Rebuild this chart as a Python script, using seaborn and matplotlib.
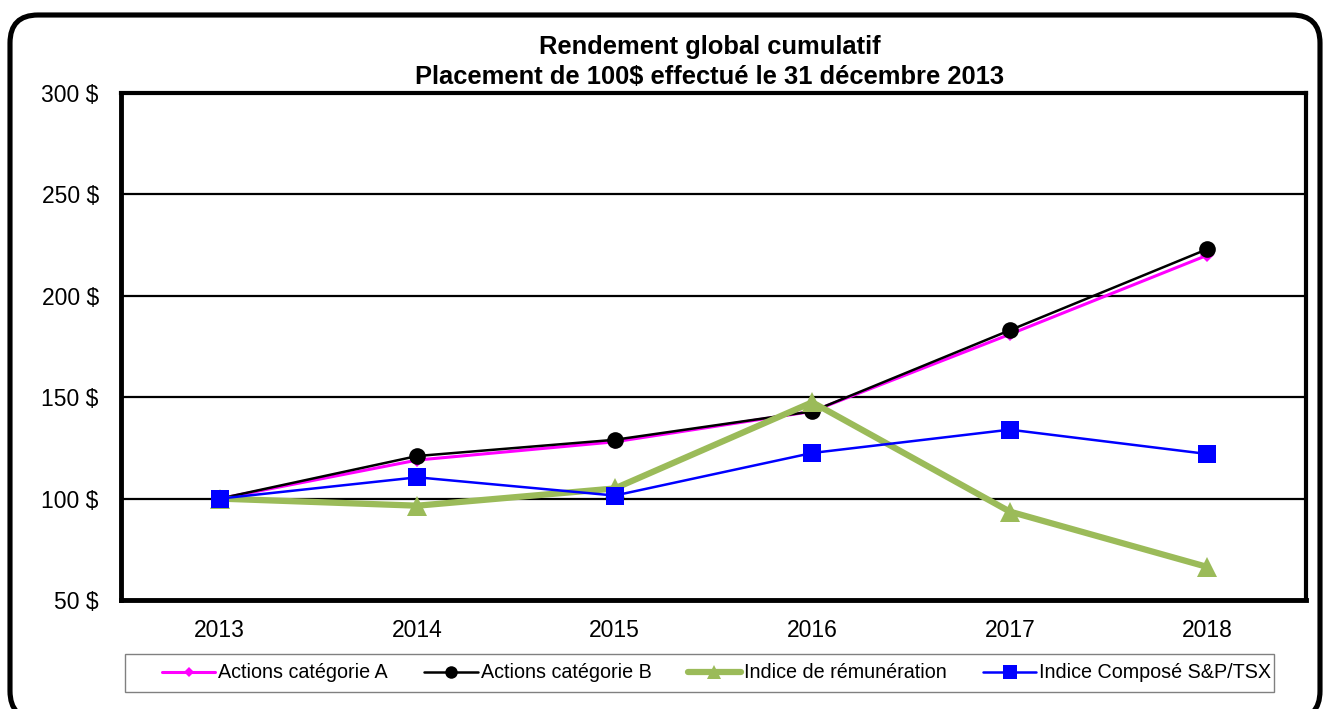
import matplotlib
matplotlib.use("Agg")
import matplotlib.pyplot as plt
import seaborn as sns
import pandas as pd
from matplotlib.patches import FancyBboxPatch, Rectangle
from matplotlib.transforms import IdentityTransform

years = [2013, 2014, 2015, 2016, 2017, 2018]
actions_a = [100, 119, 128, 143, 181, 220]
actions_b = [100, 121, 129, 143, 183, 223]
indice_remuneration = [100, 96.5, 105, 147.5, 93.6, 66.3]
indice_tsx = [100, 110.5, 101.5, 122.5, 134, 122]
y_ticks = [50, 100, 150, 200, 250, 300]
y_labels = ["50 $", "100 $", "150 $", "200 $", "250 $", "300 $"]
title = "Rendement global cumulatif\nPlacement de 100$ effectué le 31 décembre 2013"

sns.set_theme(style="white")
plt.rcParams["font.family"] = ["Liberation Sans", "DejaVu Sans"]
plt.rcParams["text.color"] = "black"
plt.rcParams["xtick.color"] = "black"
plt.rcParams["ytick.color"] = "black"

W, H = 1323, 709
fig = plt.figure(figsize=(W / 100, H / 100), dpi=100)
ax = fig.add_axes([121 / W, 1 - 600 / H, (1306 - 121) / W, (600 - 93) / H])

# outer rounded frame in pixel coordinates (bottom edge just past the image)
frame = FancyBboxPatch((10, -10), 1320 - 10, (H - 15) + 10,
                       boxstyle="round,pad=0,rounding_size=28",
                       transform=IdentityTransform(), facecolor="none",
                       edgecolor="black", linewidth=3.7, zorder=10)
fig.patches.append(frame)

series = [
    ("Actions catégorie A", actions_a, "#FF00FF", "D", 7, 2.2),
    ("Actions catégorie B", actions_b, "black", "o", 12, 1.8),
    ("Indice de rémunération", indice_remuneration, "#9BBB59", "^", 14, 4.5),
    ("Indice Composé S&P/TSX", indice_tsx, "#0000FF", "s", 13, 1.8),
]

for i, (name, vals, color, marker, ms, lw) in enumerate(series):
    df = pd.DataFrame({"year": years, "value": vals})
    sns.lineplot(data=df, x="year", y="value", ax=ax, color=color, marker=marker,
                 markersize=ms, linewidth=lw, markeredgecolor=color,
                 markeredgewidth=0, label=name, zorder=3 + i, legend=False)

ax.set_xlim(2012.5, 2018.5)
ax.set_ylim(50, 300)
ax.set_yticks(y_ticks)
ax.set_yticklabels(y_labels, fontsize=16.5)
ax.set_xticks(years)
ax.set_xticklabels([str(y) for y in years], fontsize=16.5)
ax.set_xticks([y - 0.5 for y in years] + [2018.5], minor=True)
ax.tick_params(axis="x", which="major", length=0, pad=14)
ax.tick_params(axis="x", which="minor", length=6, width=2, direction="out", color="black")
ax.tick_params(axis="y", which="major", length=6, width=2, direction="out", color="black", pad=10)
ax.set_xlabel("")
ax.set_ylabel("")
ax.yaxis.grid(True, color="black", linewidth=1.6)
ax.xaxis.grid(False)
ax.set_axisbelow(True)
for side in ["left", "bottom"]:
    ax.spines[side].set_linewidth(3.5)
    ax.spines[side].set_color("black")
for side in ["top", "right"]:
    ax.spines[side].set_linewidth(3.0)
    ax.spines[side].set_color("black")

fig.text(710 / W, 1 - 62 / H, title, ha="center", va="center",
         fontsize=18.4, fontweight="bold", linespacing=1.3, color="black")

# legend box
fig.patches.append(Rectangle((125 / W, 1 - 692 / H), (1274 - 125) / W, (692 - 654) / H,
                             transform=fig.transFigure, facecolor="white",
                             edgecolor="#808080", linewidth=1.0, zorder=1))

handles, labels = ax.get_legend_handles_labels()
leg = fig.legend(handles, labels, loc="center left",
                 bbox_to_anchor=(162 / W, 1 - 673 / H),
                 ncol=4, fontsize=14.2, frameon=False,
                 handlelength=2.7, handletextpad=0.15, columnspacing=1.85,
                 borderaxespad=0, borderpad=0, markerscale=0.75)
leg.set_zorder(5)

fig.savefig("out.png", dpi=100)
